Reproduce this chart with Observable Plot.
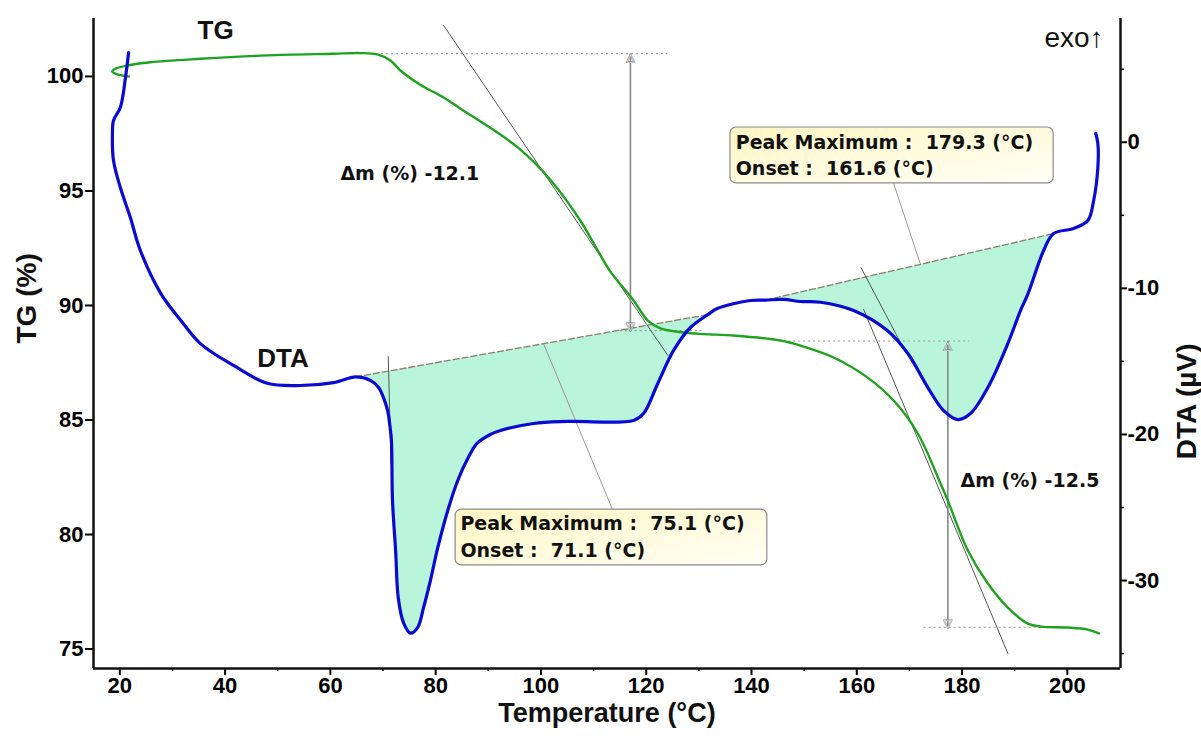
<!DOCTYPE html>
<html><head><meta charset="utf-8">
<script src="https://cdn.jsdelivr.net/npm/d3@7"></script>
<script src="https://cdn.jsdelivr.net/npm/@observablehq/plot@0.6"></script>
<style>body{margin:0;background:#fff} #chart svg{display:block}</style>
</head><body><div id="chart"></div>
<script>
// ---- data ----
const tgTemp = [21.71,19.51,18.56,19.18,21.41,25.83,35.33,48.0,60.6,65.73,68.9,71.4,73.3,77.0,81.5,85.0,89.1,95.6,101.9,107.5,110.8,113.2,117.6,120.3,122.7,127.1,131.0,136.6,145.5,149.3,155.6,162.0,167.0,171.6,175.9,177.3,181.1,184.9,188.7,192.5,195.0,200.1,203.9,206.0];
const tgMass = [100.0,100.09,100.22,100.34,100.48,100.62,100.77,100.92,100.99,101.02,100.96,100.7,100.26,99.65,99.08,98.55,97.95,96.9,95.46,93.7,92.4,91.48,90.22,89.34,89.0,88.82,88.75,88.69,88.47,88.25,87.73,86.86,85.85,84.41,82.23,81.48,79.3,77.86,76.81,76.11,75.98,75.94,75.85,75.68];

const dtaTemp = [21.67,21.1,20.1,18.8,18.6,18.8,20.1,22.0,23.9,27.8,31.6,35.3,41.6,48.0,54.3,60.6,64.8,67.6,69.2,70.1,70.9,71.4,71.6,71.8,72.4,72.9,73.9,75.2,76.6,77.7,79.0,80.4,82.3,84.2,86.1,87.9,90.4,92.3,98.6,105.1,117.6,119.5,122.2,125.2,128.4,131.7,133.5,139.8,142.7,146.1,149.3,153.1,159.4,165.8,169.7,173.5,176.5,179.2,181.6,184.9,188.7,191.1,192.5,195.5,197.4,201.2,203.9,205.0,205.8,205.8,205.4];
const dtaSignal = [6.14,4.5,2.38,1.49,0.6,-1.25,-3.1,-5.15,-7.41,-10.36,-12.2,-13.78,-15.28,-16.5,-16.65,-16.45,-16.06,-16.3,-16.8,-17.5,-18.4,-19.7,-20.4,-24.5,-28.0,-31.2,-32.9,-33.6,-33.2,-31.85,-30.0,-27.75,-25.2,-23.15,-21.65,-20.6,-20.0,-19.73,-19.25,-19.11,-19.04,-18.57,-16.51,-14.25,-12.68,-11.8,-11.38,-10.83,-10.8,-10.76,-10.9,-10.95,-11.52,-12.89,-14.46,-16.79,-18.37,-18.98,-18.57,-16.79,-13.78,-11.52,-10.4,-7.41,-6.25,-5.9,-5.36,-3.99,-1.73,-0.09,0.6];

// DTA baselines (start/end temperature and signal)
const baseTemp1 = [64.8, 131.7], baseSig1 = [-16.06, -11.8];
const baseTemp2 = [142.7, 197.4], baseSig2 = [-10.8, -6.25];

const xTicks = [20,40,60,80,100,120,140,160,180,200];
const xMinor = [30,50,70,90,110,130,150,170,190];
const tgTicks = [75,80,85,90,95,100];
const dtaTicks = [0,-10,-20,-30];
const dtaMinor = [5,-5,-15,-25,-35];

// TG steps
const stepTemp = [117.0, 177.3];
const stepTop = [101.0, 88.45];
const stepBottom = [88.9, 75.95];
const stepLabels = ["\u0394m (%) -12.1", "\u0394m (%) -12.5"];

const peakLabels = [
  ["Peak Maximum :  75.1 (\u00B0C)", "Onset :  71.1 (\u00B0C)"],
  ["Peak Maximum :  179.3 (\u00B0C)", "Onset :  161.6 (\u00B0C)"]
];

// ---- scales ----
const X_DOMAIN = [15, 210.1];
const TG_DOMAIN = [74.15, 102.53];
const DTA_DOMAIN = [-36.02, 8.47];
const k = (TG_DOMAIN[1]-TG_DOMAIN[0])/(DTA_DOMAIN[1]-DTA_DOMAIN[0]);
const dtaToTg = d => TG_DOMAIN[0] + (d - DTA_DOMAIN[0])*k;
const tgToDta = v => DTA_DOMAIN[0] + (v - TG_DOMAIN[0])/k;

const tgData = tgTemp.map((t,i)=>({t, v: tgMass[i]}));
const dtaData = dtaTemp.map((t,i)=>({t, v: dtaToTg(dtaSignal[i])}));
const poly = (t0,t1) => dtaData.filter(d => d.t >= t0 && d.t <= t1 && d.t > 30);
const fill1 = poly(baseTemp1[0], baseTemp1[1]);
const fill2 = poly(baseTemp2[0], baseTemp2[1]);
const base1 = baseTemp1.map((t,i)=>({t, v: dtaToTg(baseSig1[i])}));
const base2 = baseTemp2.map((t,i)=>({t, v: dtaToTg(baseSig2[i])}));
const baseAt = (b, t) => b[0].v + (b[1].v-b[0].v)*(t-b[0].t)/(b[1].t-b[0].t);

const tangents = [
  [{t:81.5, v:102.23},{t:124.1, v:87.82}],
  [{t:161.3, v:89.83},{t:188.7, v:74.81}],
  [{t:71.0, v:dtaToTg(-14.67)},{t:71.5, v:dtaToTg(-22)}],
  [{t:160.8, v:dtaToTg(-8.58)},{t:169.3, v:dtaToTg(-14.39)}]
];
const leaders = [
  {x1:100.5, y1: baseAt(base1,100.5), x2:113.6, y2:81.09},
  {x1:172.1, y1: baseAt(base2,172.1), x2:167.0, y2:95.33}
];
const dotted = [
  {x1:69.6, x2:124.0, y:101.0},
  {x1:114.0, x2:131.0, y:88.9},
  {x1:146.0, x2:181.3, y:88.45},
  {x1:172.7, x2:196.0, y:75.95}
];
const boxes = [
  {x1:83.8, x2:143.0, y1:78.65, y2:81.09, tx:84.7, l1:80.48, l2:79.30, lab: peakLabels[0]},
  {x1:136.0, x2:197.4, y1:95.33, y2:97.77, tx:137.0, l1:97.12, l2:95.98, lab: peakLabels[1]}
];

const FONT = "'Liberation Sans', Arial, Helvetica, sans-serif";
const NOTE_FONT = "'DejaVu Sans', Verdana, sans-serif";
const arrows = stepTemp.map((t,i)=>({t, top: stepTop[i], bot: stepBottom[i]}));
const CURVE = "catmull-rom";

const svg = Plot.plot({
  width: 1201, height: 736,
  marginLeft: 93, marginRight: 81, marginTop: 18, marginBottom: 68,
  style: {fontFamily: FONT, background: "#fff", overflow: "visible"},
  x: {domain: X_DOMAIN},
  y: {domain: TG_DOMAIN},
  marks: [
    // peak fills
    Plot.line(fill1, {x:"t", y:"v", fill:"#b8f5db", stroke:"none", curve: CURVE}),
    Plot.line(fill2, {x:"t", y:"v", fill:"#b8f5db", stroke:"none", curve: CURVE}),
    Plot.line(base1, {x:"t", y:"v", stroke:"#8c7b6a", strokeWidth:1.3, strokeDasharray:"6,3"}),
    Plot.line(base2, {x:"t", y:"v", stroke:"#8c7b6a", strokeWidth:1.3, strokeDasharray:"6,3"}),
    // leaders
    Plot.link(leaders, {x1:"x1", y1:"y1", x2:"x2", y2:"y2", stroke:"#a89090", strokeWidth:1}),
    // dotted reference lines
    Plot.link(dotted, {x1:"x1", x2:"x2", y1:"y", y2:"y", stroke:"#999", strokeWidth:1.2, strokeDasharray:"2,3"}),
    // tangents
    ...tangents.map(tn => Plot.line(tn, {x:"t", y:"v", stroke:"#555", strokeWidth:1})),
    // step arrows
    Plot.link(arrows, {x1:"t", x2:"t", y1:"top", y2:"bot", stroke:"#888", strokeWidth:1.6}),
    Plot.text(arrows, {x:"t", y:"top", text: () => "\u25B3", fontSize: 11, dy: 4, fill:"#fff", stroke:"#777", strokeWidth:1, fontFamily:"DejaVu Sans"}),
    Plot.text(arrows, {x:"t", y:"bot", text: () => "\u25BD", fontSize: 11, dy: -4, fill:"#fff", stroke:"#777", strokeWidth:1, fontFamily:"DejaVu Sans"}),
    // curves
    Plot.line(tgData, {x:"t", y:"v", stroke:"#1ea31e", strokeWidth:2.4, curve: CURVE}),
    Plot.line(dtaData, {x:"t", y:"v", stroke:"#0a0ad2", strokeWidth:3.2, curve: CURVE}),
    // annotation boxes
    Plot.rect(boxes, {x1:"x1", x2:"x2", y1:"y1", y2:"y2", fill:"url(#boxGrad)", stroke:"#8a8a8a", strokeWidth:1.2, rx:6}),
    Plot.text(boxes, {x:"tx", y:"l1", text: d => d.lab[0], textAnchor:"start", fontSize:19, fontWeight:"bold", fontFamily: NOTE_FONT, fill:"#111"}),
    Plot.text(boxes, {x:"tx", y:"l2", text: d => d.lab[1], textAnchor:"start", fontSize:19, fontWeight:"bold", fontFamily: NOTE_FONT, fill:"#111"}),
    // step labels
    Plot.text([{t:61.9, v:95.76, s:stepLabels[0]}, {t:179.7, v:82.36, s:stepLabels[1]}], {x:"t", y:"v", text:"s", textAnchor:"start", fontSize:19, fontWeight:"bold", fontFamily: NOTE_FONT, fill:"#111"}),
    // curve labels
    Plot.text([{t:38.2, v:102.0, s:"TG"}, {t:51.0, v:87.69, s:"DTA"}], {x:"t", y:"v", text:"s", fontSize:26, fontWeight:"bold", fill:"#111"}),
    Plot.text([{t:206.9, v:101.66, s:"exo\u2191"}], {x:"t", y:"v", text:"s", textAnchor:"end", fontSize:28, fill:"#111"}),
    // axes
    Plot.axisX(xTicks, {tickSize:7, tickPadding:2, fontSize:22, fontWeight:"bold", label:null, strokeWidth:2, tickFormat: d => String(d)}),
    Plot.axisX(xMinor, {tickSize:3, label:null, strokeWidth:1.5, tickFormat: () => ""}),
    Plot.axisY(tgTicks, {anchor:"left", tickSize:8, tickPadding:2, fontSize:22, fontWeight:"bold", label:null, strokeWidth:2, tickFormat: d => String(d)}),
    Plot.axisY(dtaTicks.map(dtaToTg), {anchor:"right", tickSize:6, tickPadding:1, fontSize:22, fontWeight:"bold", label:null, strokeWidth:2, tickFormat: v => String(Math.round(tgToDta(v)))}),
    Plot.axisY(dtaMinor.map(dtaToTg), {anchor:"right", tickSize:3, label:null, strokeWidth:1.5, tickFormat: () => ""}),
    Plot.ruleY([TG_DOMAIN[0]], {stroke:"#111", strokeWidth:2.5}),
    Plot.ruleX([X_DOMAIN[0], X_DOMAIN[1]], {stroke:"#111", strokeWidth:2.5}),
    // axis titles
    Plot.text(["Temperature (\u00B0C)"], {text: d => d, frameAnchor:"bottom", dy:53, fontSize:27, fontWeight:"bold", fill:"#111"}),
    Plot.text(["TG (%)"], {text: d => d, frameAnchor:"left", dx:-66, rotate:-90, fontSize:28, fontWeight:"bold", fill:"#111"}),
    Plot.text(["DTA (\u00B5V)"], {text: d => d, frameAnchor:"right", dx:67, rotate:-90, fontSize:28, fontWeight:"bold", fill:"#111"})
  ]
});

d3.select(svg).insert("defs", ":first-child").html(
  '<linearGradient id="boxGrad" x1="0" y1="0" x2="1" y2="1">' +
  '<stop offset="0" stop-color="#fff6c4"/><stop offset="1" stop-color="#fffff6"/></linearGradient>');
document.getElementById("chart").appendChild(svg);
</script>
</body></html>
